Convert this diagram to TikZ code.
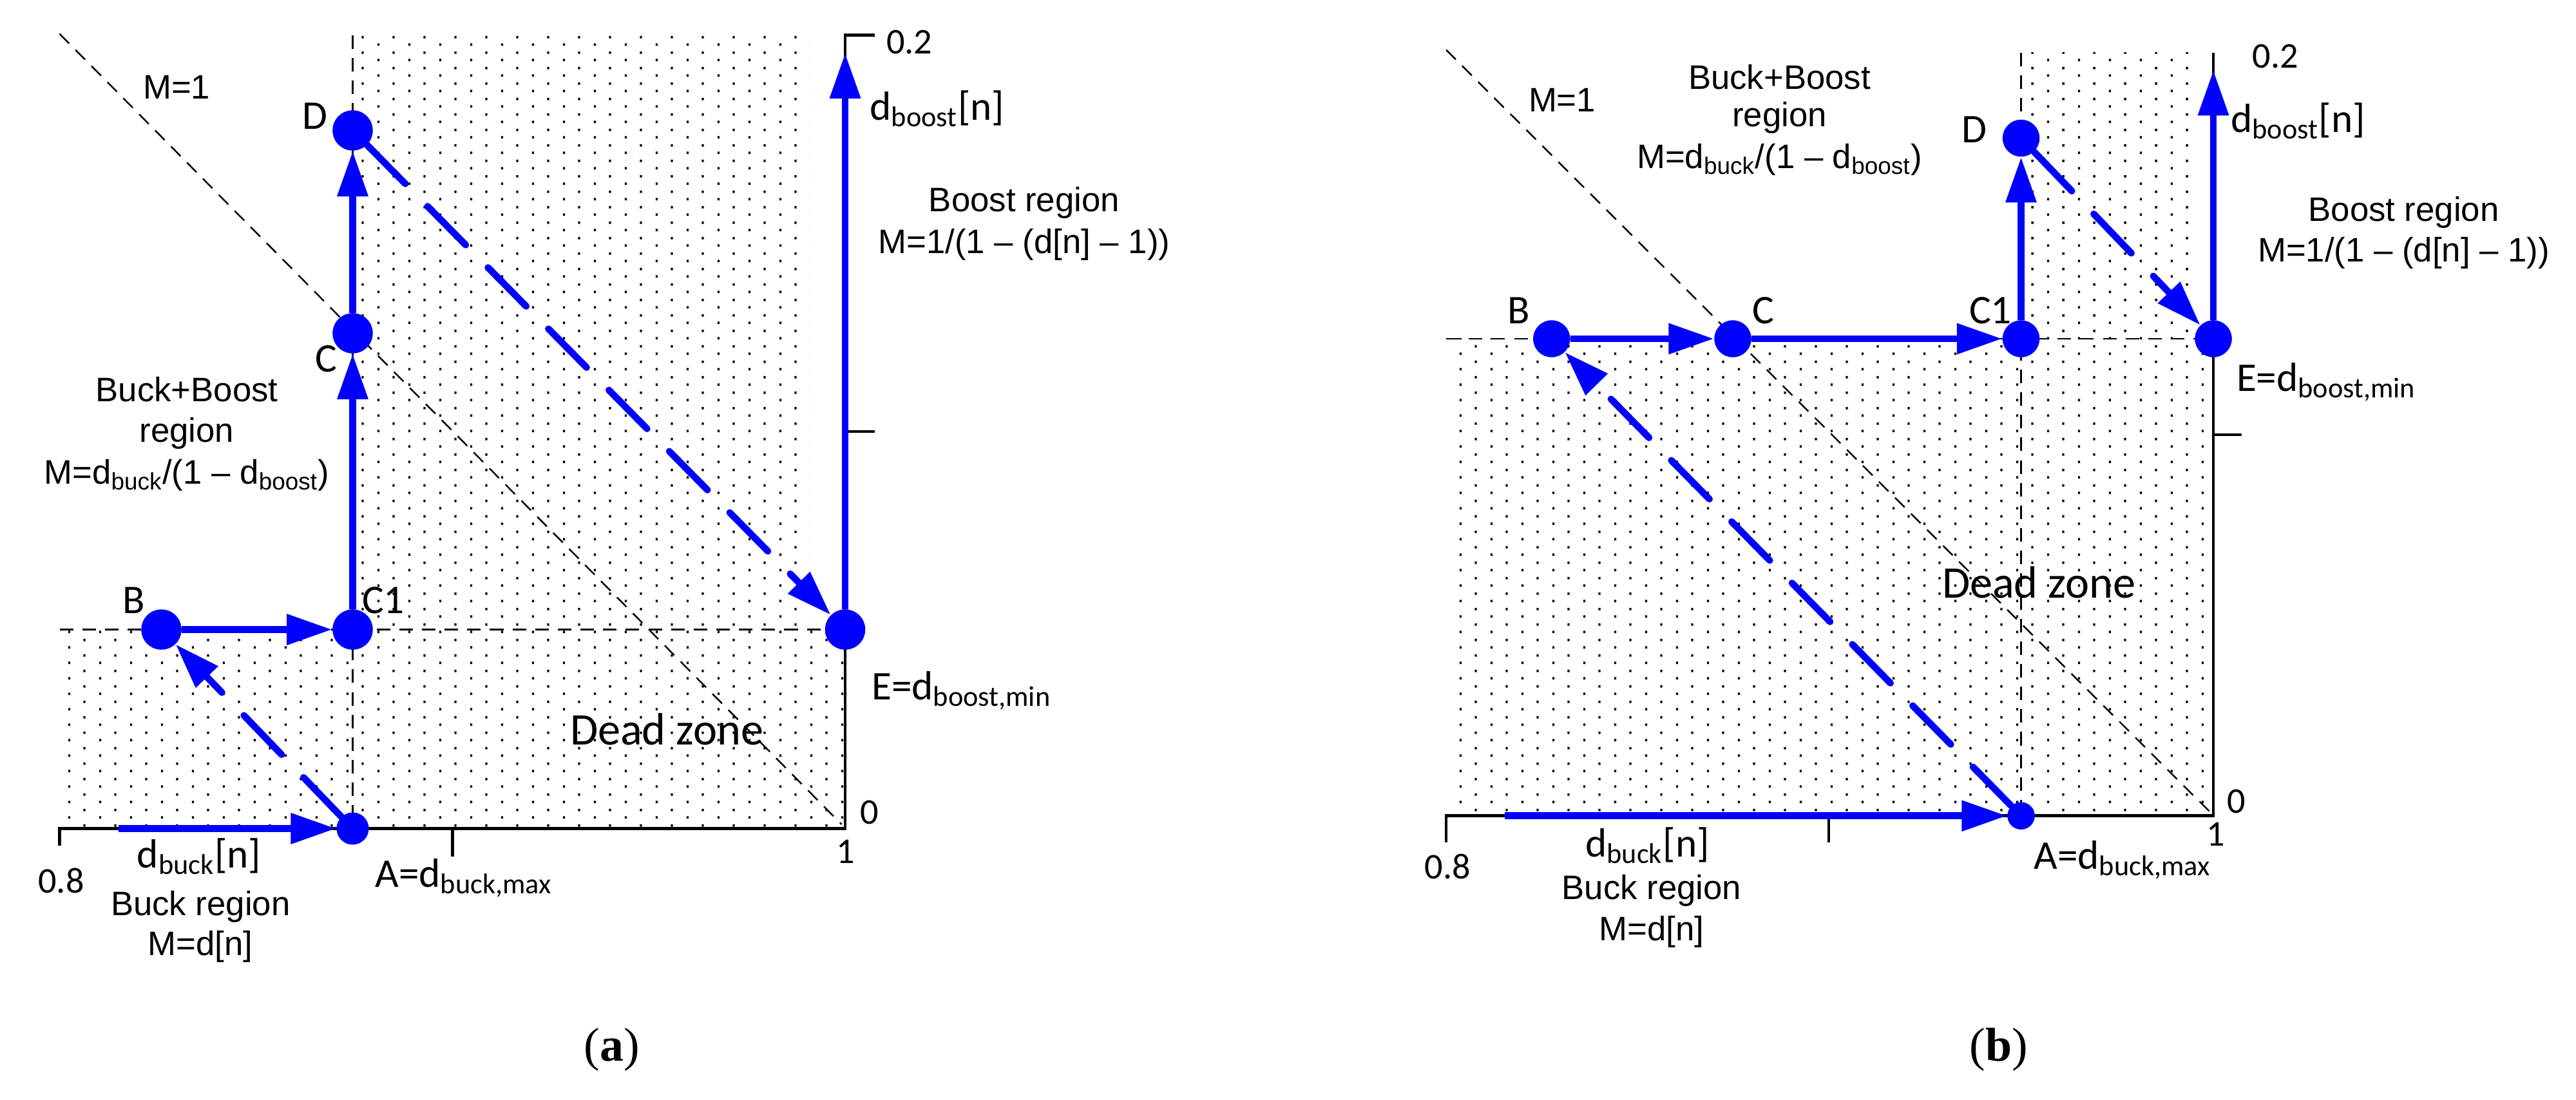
\documentclass[tikz,border=0pt]{standalone}
\usepackage{fontspec}
\setmainfont{Carlito}
\newfontfamily\arialf{Liberation Sans}
\newfontfamily\timesf{Liberation Serif}
\usetikzlibrary{patterns,arrows.meta}
\pgfdeclarepatternformonly{mydots}{\pgfpointorigin}{\pgfpoint{0.48cm}{0.24cm}}{\pgfpoint{0.48cm}{0.24cm}}{%
  \pgfpathrectangle{\pgfpoint{0.1cm}{0.05cm}}{\pgfpoint{0.034cm}{0.04cm}}%
  \pgfpathrectangle{\pgfpoint{0.34cm}{0.17cm}}{\pgfpoint{0.034cm}{0.04cm}}%
  \pgfusepath{fill}}
\begin{document}
\begin{tikzpicture}[x={(0.025cm,0)},y={(0,-0.025cm)},
  lbl/.style={font=\fontsize{18}{20}\selectfont,inner sep=0pt},
  num/.style={font=\fontsize{16}{18}\selectfont,inner sep=0pt},
  reg/.style={font=\arialf\fontsize{15}{17}\selectfont,inner sep=0pt},
  captext/.style={font=\timesf\fontsize{21}{23}\selectfont,inner sep=0pt},
  dot/.style={circle,fill=blue,inner sep=0pt,minimum size=25*0.025cm},
  sdot/.style={circle,fill=blue,inner sep=0pt,minimum size=20*0.025cm},
  sarr/.style={blue,line width=3pt,-{Triangle[length=20pt,width=13pt]}},
  darr/.style={blue,line width=3pt,line cap=round,dash pattern=on 24pt off 14pt,-{Triangle[length=20pt,width=13pt]}},
  ax/.style={line width=1.3pt},
  dl/.style={dash pattern=on 6pt off 4pt,line width=0.7pt},
  dotted region/.style={pattern=mydots,pattern color=black}]
\useasboundingbox (0,0) rectangle (1599.6,683.2);
% ---------- panel (a)
\fill[dotted region] (37,391) rectangle (525,514.6);
\fill[dotted region] (219,22) rectangle (503,391);
\draw[dl] (219,22) -- (219,514.6);
\draw[dl] (37,391) -- (525,391);
\draw[dl] (37,21) -- (522.6,512);
\draw[ax] (37,525) -- (37,514.6) -- (524.8,514.6) -- (524.8,21.8) -- (543,21.8);
\draw[ax] (281,514.6) -- (281,532);
\draw[ax] (524.8,268) -- (543,268);
\node[sdot] (aA) at (219,514.6) {};
\node[dot] (aB) at (100.2,391) {};
\node[dot] (aC1) at (219,391) {};
\node[dot] (aC) at (219,207) {};
\node[dot] (aD) at (219,81) {};
\node[dot] (aE) at (524.8,391) {};
\coordinate (aS) at (73.7,514.6);
\coordinate (aT) at (524.8,33);
\draw[sarr] (aS) -- (aA);
\draw[sarr] (aB) -- (aC1);
\draw[sarr] (aC1) -- (aC);
\draw[sarr] (aC) -- (aD);
\draw[sarr] (aE) -- (aT);
\draw[darr] (aA) -- (aB);
\draw[darr] (aD) -- (aE);
\node[num] at (564.7,26) {0.2};
\node[num] at (540,504.5) {0};
\node[num] at (525,529) {1};
\node[num] at (38,547) {0.8};
\node[reg] at (109.7,54) {M=1};
\node[lbl] at (195.6,72) {D};
\node[lbl] at (202.5,223) {C};
\node[lbl] at (238,373) {C1};
\node[lbl] at (83,373) {B};
\node[lbl,anchor=west] at (541,429) {E=d\textsubscript{boost,min}};
\node[lbl,font=\fontsize{20}{22}\selectfont] at (414,453) {Dead zone};
\node[reg] at (116,242) {Buck+Boost};
\node[reg] at (116,269) {region};
\node[reg] at (116,295) {M=d\textsubscript{buck}/(1 – d\textsubscript{boost})};
\node[lbl] at (582,67.5) {d\textsubscript{boost}[n]};
\node[reg] at (636,126) {Boost region};
\node[reg] at (636,152) {M=1/(1 – (d[n] – 1))};
\node[lbl] at (123.6,532) {d\textsubscript{buck}[n]};
\node[reg] at (124.5,563) {Buck region};
\node[reg] at (124.5,588) {M=d[n]};
\node[lbl] at (288,545.5) {A=d\textsubscript{buck,max}};
\node[captext] at (380,652) {(\textbf{a})};
% ---------- panel (b)
\fill[dotted region] (898,210.4) rectangle (1374.4,506.7);
\fill[dotted region] (1255,32.7) rectangle (1361,210.4);
\draw[dl] (1255,32.7) -- (1255,506.7);
\draw[dl] (898,210.4) -- (1374.4,210.4);
\draw[dl] (898,31) -- (1373,505);
\draw[ax] (898,523) -- (898,506.7) -- (1374.4,506.7) -- (1374.4,32.7);
\draw[ax] (1135.5,506.7) -- (1135.5,523);
\draw[ax] (1374.4,270) -- (1392,270);
\node[sdot,minimum size=17*0.025cm] (bA) at (1255,506.7) {};
\node[dot,minimum size=23*0.025cm] (bB) at (963.5,210.4) {};
\node[dot,minimum size=23*0.025cm] (bC) at (1076,210.4) {};
\node[dot,minimum size=23*0.025cm] (bC1) at (1255,210.4) {};
\node[dot,minimum size=23*0.025cm] (bD) at (1255,85.8) {};
\node[dot,minimum size=23*0.025cm] (bE) at (1374.4,210.4) {};
\coordinate (bS) at (934.5,506.7);
\coordinate (bT) at (1374.4,43.6);
\draw[sarr] (bS) -- (bA);
\draw[sarr] (bB) -- (bC);
\draw[sarr] (bC) -- (bC1);
\draw[sarr] (bC1) -- (bD);
\draw[sarr] (bE) -- (bT);
\draw[darr] (bA) -- (bB);
\draw[darr] (bD) -- (bE);
\node[num] at (1413,35) {0.2};
\node[num] at (1388.5,497.6) {0};
\node[num] at (1376,518) {1};
\node[num] at (899,538) {0.8};
\node[reg] at (970,62) {M=1};
\node[reg] at (1105,48) {Buck+Boost};
\node[reg] at (1105,73) {region};
\node[reg] at (1105,99) {M=d\textsubscript{buck}/(1 – d\textsubscript{boost})};
\node[lbl] at (1226,80.6) {D};
\node[lbl] at (1427,75) {d\textsubscript{boost}[n]};
\node[reg] at (1492.6,132) {Boost region};
\node[reg] at (1492.6,157) {M=1/(1 – (d[n] – 1))};
\node[lbl] at (943,193) {B};
\node[lbl] at (1095,193) {C};
\node[lbl] at (1236,193) {C1};
\node[lbl,anchor=west] at (1388.5,237.5) {E=d\textsubscript{boost,min}};
\node[lbl,font=\fontsize{20}{22}\selectfont] at (1266,361.6) {Dead zone};
\node[lbl] at (1023,525) {d\textsubscript{buck}[n]};
\node[reg] at (1025.6,553) {Buck region};
\node[reg] at (1025.6,578.6) {M=d[n]};
\node[lbl] at (1318,534) {A=d\textsubscript{buck,max}};
\node[captext] at (1241,652) {(\textbf{b})};
\end{tikzpicture}
\end{document}
